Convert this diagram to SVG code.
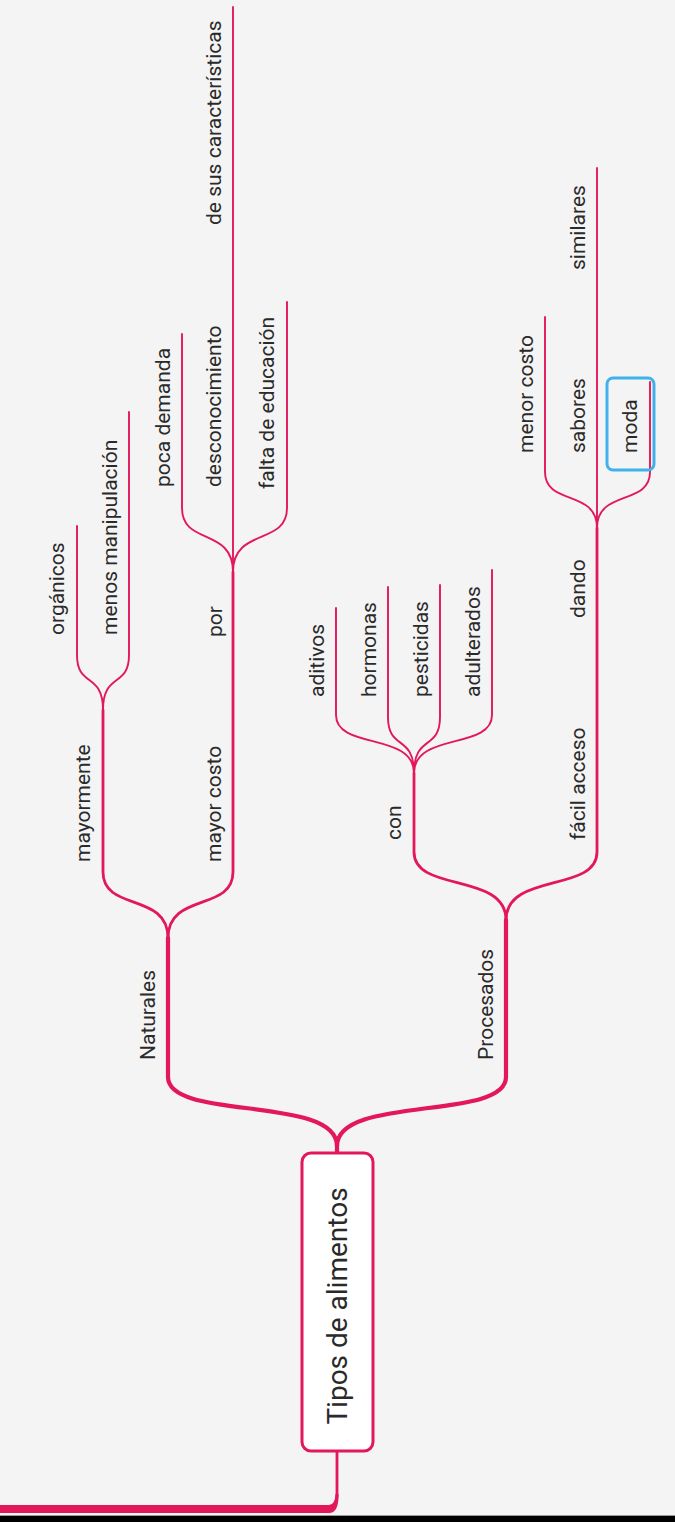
<svg xmlns="http://www.w3.org/2000/svg" width="675" height="1522" viewBox="0 0 675 1522">
<style>
.c1{fill:none;stroke:#e2185b;stroke-width:4.2;stroke-linecap:round}
.c2{fill:none;stroke:#e2185b;stroke-width:2.8;stroke-linecap:round}
.c3{fill:none;stroke:#e2185b;stroke-width:1.9;stroke-linecap:round}
.t{font-family:Roboto,"Liberation Sans",sans-serif;font-size:21px;fill:#2a2a2a}
.root{font-size:28px;text-anchor:middle}
</style>
<rect x="0" y="0" width="675" height="1522" fill="#f4f4f4"/>
<rect x="0" y="1515" width="675" height="1" fill="#9a9a9a"/>
<rect x="0" y="1516" width="675" height="6" fill="#000"/>
<g id="connectors">
<path class="c2" d="M337,1452 V1497"/>
<path d="M0,1505 H329 Q335,1505 335.5,1494 L338.5,1494 Q339,1513 329,1513 H0 Z" fill="#e2185b"/>
<path class="c1" d="M337,1152 V1145"/>
<path class="c1" d="M337,1146 C337,1095 168,1121 168,1077 V938"/>
<path class="c1" d="M337,1146 C337,1095 506,1121 506,1077 V920"/>
<path class="c2" d="M168,938 C168,892 103,912 103,872 V710"/>
<path class="c2" d="M168,938 C168,892 233,912 233,872 V572"/>
<path class="c2" d="M506,920 C506,872 414,893 414,852 V773"/>
<path class="c2" d="M506,920 C506,872 597,893 597,852 V528"/>
<path class="c3" d="M103,710 C103,672 77,688 77,655 V526"/>
<path class="c3" d="M103,710 C103,672 129,688 129,655 V412"/>
<path class="c3" d="M233,572 C233,527 182,546 182,508 V334"/>
<path class="c3" d="M233,572 C233,527 287,546 287,508 V302"/>
<path class="c3" d="M233,572 V7"/>
<path class="c3" d="M414,773 C414,732 336,750 336,715 V608"/>
<path class="c3" d="M414,773 C414,734 388,751 388,717 V587"/>
<path class="c3" d="M414,773 C414,734 440,751 440,717 V585"/>
<path class="c3" d="M414,773 C414,732 492,750 492,715 V570"/>
<path class="c3" d="M597,528 C597,489 545,506 545,472 V317"/>
<path class="c3" d="M597,528 C597,489 650,506 650,472 V382"/>
<path class="c3" d="M597,528 V168"/>
</g>
<g id="root">
<rect x="302" y="1153" width="71" height="298" rx="9" fill="#fff" stroke="#e2185b" stroke-width="3"/>
<text class="t root" transform="translate(347,1306) rotate(-90)">Tipos de alimentos</text>
</g>
<g id="naturales"><text class="t" transform="translate(155,1060) rotate(-90)">Naturales</text></g>
<g id="procesados"><text class="t" transform="translate(493,1060) rotate(-90)">Procesados</text></g>
<g id="mayormente"><text class="t" transform="translate(90,862) rotate(-90)">mayormente</text></g>
<g id="mayor-costo"><text class="t" transform="translate(221,862) rotate(-90)">mayor costo</text></g>
<g id="con"><text class="t" transform="translate(401,840) rotate(-90)">con</text></g>
<g id="facil-acceso"><text class="t" transform="translate(585,840) rotate(-90)">fácil acceso</text></g>
<g id="organicos"><text class="t" transform="translate(64,635) rotate(-90)">orgánicos</text></g>
<g id="menos-manipulacion"><text class="t" transform="translate(117,635) rotate(-90)">menos manipulación</text></g>
<g id="por"><text class="t" transform="translate(222,637) rotate(-90)">por</text></g>
<g id="poca-demanda"><text class="t" transform="translate(170,487) rotate(-90)">poca demanda</text></g>
<g id="desconocimiento"><text class="t" transform="translate(221,487) rotate(-90)">desconocimiento</text></g>
<g id="de-sus-caracteristicas"><text class="t" transform="translate(221,225) rotate(-90)">de sus características</text></g>
<g id="falta-de-educacion"><text class="t" transform="translate(274,489) rotate(-90)">falta de educación</text></g>
<g id="aditivos"><text class="t" transform="translate(324,697) rotate(-90)">aditivos</text></g>
<g id="hormonas"><text class="t" transform="translate(376,697) rotate(-90)">hormonas</text></g>
<g id="pesticidas"><text class="t" transform="translate(428,697) rotate(-90)">pesticidas</text></g>
<g id="adulterados"><text class="t" transform="translate(480,697) rotate(-90)">adulterados</text></g>
<g id="dando"><text class="t" transform="translate(585,618) rotate(-90)">dando</text></g>
<g id="menor-costo"><text class="t" transform="translate(533,453) rotate(-90)">menor costo</text></g>
<g id="sabores"><text class="t" transform="translate(585,453) rotate(-90)">sabores</text></g>
<g id="similares"><text class="t" transform="translate(585,270) rotate(-90)">similares</text></g>
<g id="moda">
<rect x="607" y="378" width="47" height="92" rx="6" fill="none" stroke="#3db2ec" stroke-width="3"/>
<text class="t" transform="translate(637,453) rotate(-90)">moda</text>
</g>
</svg>
